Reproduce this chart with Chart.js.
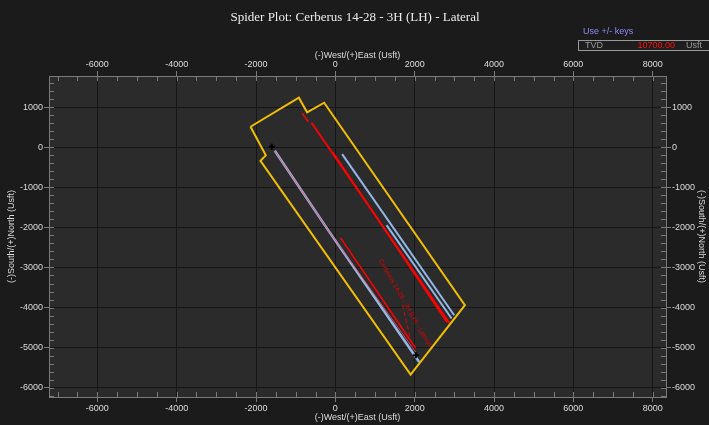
<!DOCTYPE html>
<html>
<head>
<meta charset="utf-8">
<script src="https://cdn.jsdelivr.net/npm/chart.js@4.4.0/dist/chart.umd.min.js"></script>
<style>
  html, body { margin: 0; padding: 0; background: #1b1b1b; }
  #wrap { width: 709px; height: 425px; }
</style>
</head>
<body>
<div id="wrap"><canvas id="spider" width="709" height="425"></canvas></div>
<script>
const xTicks = [-6000, -4000, -2000, 0, 2000, 4000, 6000, 8000];
const yTicks = [-6000, -5000, -4000, -3000, -2000, -1000, 0, 1000];
const xRange = [-7218, 8335];
const yRange = [-6235, 1783];

// lease / hardline boundary
const boundaryX = [-2139, -920, -711, -282, 3266, 1897, -1887, -1753, -2139];
const boundaryY = [515, 1240, 875, 1115, -3943, -5675, -335, -200, 515];

// subject well (survey + plan)
const wellX = [-1526, -182, 2113];
const wellY = [-85, -2068, -5360];
const planX = [-1526, -182, 2030];
const planY = [-85, -2068, -5118];
const planOffsetX = [131, 2023];
const planOffsetY = [-2260, -5010];
const labelLeaderX = [1695, 1879];
const labelLeaderY = [-3943, -4735];

// offset wells
const offsetAX = [171, 2996];
const offsetAY = [-168, -4193];
const offsetBX = [1291, 2931];
const offsetBY = [-1943, -4275];
const offsetRedX = [-600, 2870];
const offsetRedY = [615, -4385];
const offsetRedStubX = [-837, -680];
const offsetRedStubY = [850, 640];
const offsetRed2X = [-63, 2812];
const offsetRed2Y = [-118, -4368];

// surface and target markers
const markerX = [-1602, 2030];
const markerY = [15, -5193];

const wellLabel = "Cerberus 14-28 - 3H (LH) - Lateral";
const labelPos = { x: 1753, y: -3880 };

const pts = (xs, ys) => xs.map((x, i) => ({ x, y: ys[i] }));

function line(data, color, width, extra) {
  return Object.assign({
    data, borderColor: color, backgroundColor: color, borderWidth: width,
    showLine: true, pointRadius: 0, fill: false, tension: 0
  }, extra || {});
}

const minorTicks = {
  id: "minorTicks",
  beforeDraw(chart) {
    const { ctx, chartArea: a } = chart;
    ctx.save();
    ctx.fillStyle = "#1b1b1b";
    ctx.fillRect(0, 0, chart.width, chart.height);
    ctx.fillStyle = "#2b2b2b";
    ctx.fillRect(a.left, a.top, a.right - a.left, a.bottom - a.top);
    ctx.restore();
  },
  beforeDatasetsDraw(chart) {
    const { ctx, chartArea: a, scales } = chart;
    ctx.save();
    ctx.strokeStyle = "#7a7a7a";
    ctx.lineWidth = 1;
    ctx.beginPath();
    for (let v = -7000; v <= 8335; v += 500) {
      const px = Math.round(scales.x.getPixelForValue(v)) + 0.5;
      ctx.moveTo(px, a.top); ctx.lineTo(px, a.top + 5);
      ctx.moveTo(px, a.bottom); ctx.lineTo(px, a.bottom - 5);
    }
    for (let v = -6200; v <= 1783; v += 200) {
      const py = Math.round(scales.y.getPixelForValue(v)) + 0.5;
      ctx.moveTo(a.left, py); ctx.lineTo(a.left + 5, py);
      ctx.moveTo(a.right, py); ctx.lineTo(a.right - 5, py);
    }
    ctx.stroke();
    ctx.restore();
  },
  afterDraw(chart) {
    const { ctx, chartArea: a, scales } = chart;
    const cx = (a.left + a.right) / 2;
    const cy = (a.top + a.bottom) / 2;
    ctx.save();
    ctx.textBaseline = "middle";

    ctx.fillStyle = "#ececec";
    ctx.textAlign = "center";
    ctx.font = '13px "Liberation Serif", "Times New Roman", serif';
    ctx.fillText("Spider Plot: Cerberus 14-28 - 3H (LH) - Lateral", 355, 18);

    ctx.font = '9px "Liberation Sans", Arial, sans-serif';
    ctx.fillStyle = "#dcdcdc";
    ctx.fillText("(-)West/(+)East (Usft)", cx, 56);
    ctx.fillText("(-)West/(+)East (Usft)", cx, 418);
    ctx.save();
    ctx.translate(12, cy);
    ctx.rotate(-Math.PI / 2);
    ctx.fillText("(-)South/(+)North (Usft)", 0, 0);
    ctx.restore();
    ctx.save();
    ctx.translate(701, cy);
    ctx.rotate(Math.PI / 2);
    ctx.fillText("(-)South/(+)North (Usft)", 0, 0);
    ctx.restore();

    // TVD readout
    ctx.textAlign = "left";
    ctx.fillStyle = "#8a8af5";
    ctx.fillText("Use +/- keys", 583, 32);
    ctx.fillStyle = "#1e1e1e";
    ctx.fillRect(578.5, 40.5, 140, 10);
    ctx.strokeStyle = "#9a9a9a";
    ctx.strokeRect(578.5, 40.5, 140, 10);
    ctx.fillStyle = "#9a9a9a";
    ctx.fillText("TVD", 585, 46);
    ctx.fillText("Usft", 686, 46);
    ctx.fillStyle = "#ff1010";
    ctx.textAlign = "right";
    ctx.fillText("10700.00", 675, 46);

    // well label along the lateral
    const lx = scales.x.getPixelForValue(labelPos.x);
    const ly = scales.y.getPixelForValue(labelPos.y);
    ctx.translate(lx, ly);
    ctx.rotate(60 * Math.PI / 180);
    ctx.textAlign = "center";
    ctx.fillStyle = "#e00000";
    ctx.font = '6.5px "Liberation Sans", Arial, sans-serif';
    ctx.fillText(wellLabel, 0, 0);
    ctx.restore();
  }
};

function axis(pos, size, ticks, grid) {
  const horizontal = pos === "top" || pos === "bottom";
  return {
    type: "linear",
    position: pos,
    min: horizontal ? xRange[0] : yRange[0],
    max: horizontal ? xRange[1] : yRange[1],
    afterFit(s) { if (horizontal) s.height = size; else s.width = size; },
    afterBuildTicks(s) { s.ticks = ticks.map(v => ({ value: v })); },
    grid: { color: "#161616", drawOnChartArea: grid, tickColor: "#7a7a7a", tickLength: 5 },
    border: { display: true, color: "#7a7a7a" },
    ticks: {
      color: "#dcdcdc", padding: 1, maxRotation: 0, autoSkip: false,
      font: { size: 9, family: '"Liberation Sans", Arial, sans-serif' },
      callback: v => String(v)
    }
  };
}

new Chart(document.getElementById("spider"), {
  type: "scatter",
  data: {
    datasets: [
      { data: pts(markerX, markerY), pointStyle: "cross", pointRadius: 3,
        borderColor: "#000", backgroundColor: "#000", borderWidth: 2, showLine: false },
      line(pts(planX, planY), "rgba(255,70,90,0.85)", 1),
      line(pts(wellX, wellY), "#92b8e6", 2.5),
      line(pts(planOffsetX, planOffsetY), "#ff0000", 1.5),
      line(pts(labelLeaderX, labelLeaderY), "#e00000", 1, { borderDash: [4, 3] }),
      line(pts(offsetAX, offsetAY), "#92b8e6", 2),
      line(pts(offsetBX, offsetBY), "#92b8e6", 2),
      line(pts(offsetRedX, offsetRedY), "#ff0000", 2),
      line(pts(offsetRed2X, offsetRed2Y), "#ff0000", 1.5),
      line(pts(offsetRedStubX, offsetRedStubY), "#ff0000", 1.5),
      line(pts(boundaryX, boundaryY), "#f2be00", 2)
    ]
  },
  options: {
    responsive: false,
    animation: false,
    layout: { padding: 0 },
    plugins: { legend: { display: false }, tooltip: { enabled: false }, title: { display: false } },
    scales: {
      x: axis("bottom", 28, xTicks, true),
      x2: axis("top", 76, xTicks, false),
      y: axis("left", 49, yTicks, true),
      y2: axis("right", 43, yTicks, false)
    }
  },
  plugins: [minorTicks]
});
</script>
</body>
</html>
